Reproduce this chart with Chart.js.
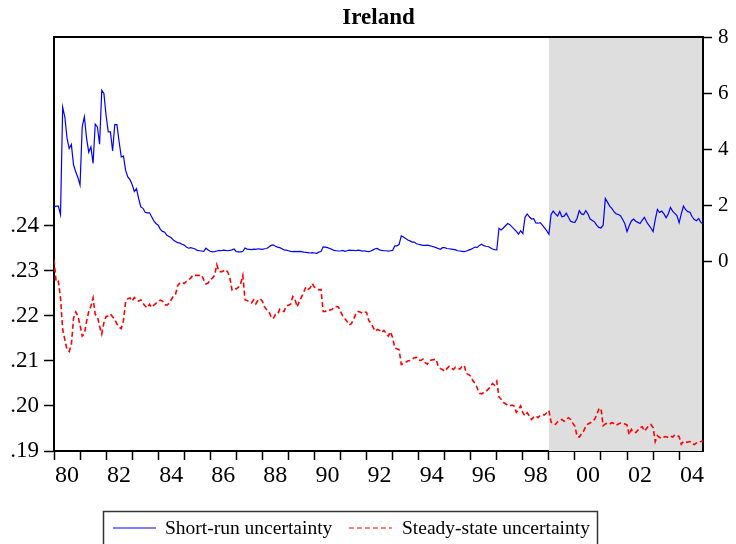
<!DOCTYPE html>
<html>
<head>
<meta charset="utf-8">
<script src="https://cdn.jsdelivr.net/npm/chart.js@4.4.1/dist/chart.umd.min.js"></script>
<style>
  html, body { margin: 0; padding: 0; background: #fff; }
  canvas { display: block; }
</style>
</head>
<body>
<canvas id="myChart" width="736" height="544" style="width:736px;height:544px"></canvas>
<script>
// monthly data, 1980:01 - 2004:12
const years = [1980, 1981, 1982, 1983, 1984, 1985, 1986, 1987, 1988, 1989, 1990, 1991, 1992,
               1993, 1994, 1995, 1996, 1997, 1998, 1999, 2000, 2001, 2002, 2003, 2004];
const leftTicks = [0.19, 0.20, 0.21, 0.22, 0.23, 0.24];
const rightTicks = [0, 2, 4, 6, 8];
const shadeFrom = 1999;

const shortRun = [
  1.95, 1.98, 1.98, 1.68, 5.50, 5.15, 4.40, 4.03, 4.17, 3.45, 3.20, 3.00,
  2.73, 4.80, 5.16, 4.40, 3.90, 4.09, 3.50, 4.90, 4.80, 4.18, 6.10, 5.99,
  5.20, 4.62, 4.62, 3.94, 4.88, 4.88, 4.27, 3.73, 3.76, 3.25, 3.02, 2.92,
  2.75, 2.50, 2.60, 2.25, 1.95, 1.90, 1.76, 1.74, 1.74, 1.60, 1.45, 1.36,
  1.30, 1.15, 1.08, 1.05, 0.94, 0.90, 0.85, 0.77, 0.72, 0.68, 0.66, 0.62,
  0.59, 0.52, 0.48, 0.50, 0.48, 0.45, 0.40, 0.39, 0.38, 0.37, 0.48, 0.42,
  0.37, 0.35, 0.36, 0.38, 0.40, 0.39, 0.41, 0.40, 0.39, 0.40, 0.42, 0.45,
  0.36, 0.35, 0.35, 0.37, 0.49, 0.45, 0.44, 0.43, 0.45, 0.44, 0.46, 0.45,
  0.44, 0.46, 0.47, 0.52, 0.58, 0.60, 0.55, 0.52, 0.50, 0.46, 0.42, 0.41,
  0.39, 0.37, 0.36, 0.37, 0.36, 0.37, 0.36, 0.34, 0.33, 0.32, 0.31, 0.32,
  0.31, 0.30, 0.34, 0.36, 0.53, 0.52, 0.50, 0.47, 0.44, 0.40, 0.39, 0.38,
  0.38, 0.40, 0.37, 0.39, 0.41, 0.40, 0.40, 0.39, 0.41, 0.40, 0.38, 0.39,
  0.37, 0.36, 0.38, 0.42, 0.46, 0.47, 0.42, 0.40, 0.39, 0.39, 0.38, 0.39,
  0.40, 0.56, 0.56, 0.62, 0.92, 0.88, 0.83, 0.77, 0.74, 0.70, 0.70, 0.64,
  0.62, 0.60, 0.58, 0.58, 0.59, 0.57, 0.55, 0.53, 0.50, 0.47, 0.44, 0.50,
  0.50, 0.47, 0.46, 0.45, 0.44, 0.42, 0.39, 0.38, 0.37, 0.36, 0.38, 0.41,
  0.44, 0.48, 0.52, 0.51, 0.58, 0.62, 0.57, 0.55, 0.54, 0.50, 0.45, 0.43,
  0.42, 1.19, 1.13, 1.20, 1.28, 1.36, 1.32, 1.24, 1.16, 1.08, 0.98, 1.10,
  1.00, 1.58, 1.70, 1.60, 1.52, 1.53, 1.38, 1.37, 1.39, 1.30, 1.20, 1.10,
  0.98, 1.68, 1.80, 1.70, 1.63, 1.79, 1.60, 1.62, 1.73, 1.58, 1.44, 1.41,
  1.40, 1.55, 1.82, 1.70, 1.68, 1.82, 1.70, 1.52, 1.47, 1.42, 1.30, 1.22,
  1.20, 1.30, 2.25, 2.12, 1.98, 1.90, 1.78, 1.70, 1.68, 1.64, 1.50, 1.35,
  1.07, 1.28, 1.45, 1.52, 1.44, 1.40, 1.36, 1.48, 1.58, 1.42, 1.30, 1.20,
  1.07, 1.50, 1.86, 1.75, 1.80, 1.70, 1.56, 1.70, 1.93, 1.80, 1.72, 1.64,
  1.39, 1.70, 1.98, 1.85, 1.78, 1.76, 1.60, 1.50, 1.46, 1.54, 1.40, 1.34
];

const steadyState = [
  .2325, .2275, .2277, .2240, .2170, .2147, .2125, .2121, .2136, .2195, .2209, .2200,
  .2180, .2155, .2160, .2188, .2210, .2222, .2240, .2203, .2199, .2177, .2160, .2185,
  .2199, .2200, .2204, .2198, .2192, .2182, .2175, .2172, .2190, .2232, .2238, .2240,
  .2233, .2241, .2236, .2233, .2236, .2228, .2222, .2218, .2226, .2219, .2224, .2228,
  .2232, .2235, .2233, .2225, .2224, .2228, .2236, .2244, .2248, .2268, .2273, .2275,
  .2272, .2277, .2280, .2284, .2291, .2290, .2290, .2290, .2291, .2280, .2271, .2273,
  .2281, .2284, .2290, .2314, .2299, .2298, .2300, .2303, .2298, .2285, .2258, .2262,
  .2260, .2264, .2272, .2290, .2236, .2234, .2232, .2229, .2236, .2227, .2235, .2238,
  .2233, .2220, .2214, .2210, .2198, .2194, .2203, .2203, .2215, .2212, .2210, .2222,
  .2224, .2226, .2243, .2238, .2220, .2232, .2242, .2252, .2264, .2259, .2262, .2272,
  .2264, .2261, .2258, .2259, .2210, .2210, .2214, .2213, .2214, .2220, .2221, .2220,
  .2210, .2200, .2194, .2188, .2180, .2183, .2192, .2204, .2210, .2209, .2206, .2209,
  .2208, .2190, .2184, .2175, .2166, .2170, .2168, .2163, .2168, .2162, .2155, .2165,
  .2152, .2129, .2127, .2125, .2092, .2094, .2097, .2100, .2101, .2104, .2107, .2108,
  .2102, .2101, .2104, .2096, .2093, .2101, .2102, .2103, .2104, .2088, .2083, .2081,
  .2077, .2083, .2088, .2084, .2081, .2086, .2084, .2082, .2088, .2090, .2072, .2070,
  .2066, .2056, .2050, .2040, .2028, .2027, .2030, .2032, .2037, .2042, .2050, .2046,
  .2055, .2020, .2015, .2008, .2005, .2002, .2000, .2002, .2000, .1986, .1992, .2000,
  .1985, .1978, .1985, .1978, .1970, .1975, .1978, .1974, .1979, .1981, .1980, .1985,
  .1990, .1964, .1960, .1959, .1965, .1968, .1970, .1966, .1970, .1974, .1970, .1962,
  .1955, .1932, .1931, .1938, .1944, .1955, .1960, .1962, .1966, .1970, .1980, .1993,
  .1995, .1956, .1960, .1962, .1960, .1963, .1961, .1957, .1960, .1962, .1961, .1960,
  .1958, .1936, .1948, .1942, .1941, .1946, .1952, .1954, .1944, .1950, .1957, .1959,
  .1952, .1921, .1934, .1930, .1928, .1931, .1932, .1930, .1933, .1931, .1936, .1935,
  .1932, .1915, .1921, .1919, .1920, .1921, .1916, .1914, .1918, .1920, .1921, .1922
];

const SERIF = '"Liberation Serif", "Times New Roman", serif';
Chart.defaults.font.family = SERIF;
Chart.defaults.color = '#000';

function toPoints(values) {
    return values.map((v, i) => ({ x: years[0] + i / 12, y: v }));
}

// shading, top frame line, title and boxed legend
const extras = {
    id: 'extras',
    beforeDatasetsDraw(chart) {
        const { ctx, chartArea: a, scales } = chart;
        const x0 = scales.x.getPixelForValue(shadeFrom);
        ctx.save();
        ctx.fillStyle = '#dedede';
        ctx.fillRect(x0, a.top, a.right - x0 - 1, a.bottom - a.top);
        ctx.restore();
    },
    afterDraw(chart) {
        const { ctx, chartArea: a } = chart;
        ctx.save();
        ctx.strokeStyle = '#000';
        ctx.lineWidth = 2;
        ctx.beginPath();
        ctx.moveTo(a.left - 1, a.top);
        ctx.lineTo(a.right + 1, a.top);
        ctx.stroke();

        ctx.fillStyle = '#000';
        ctx.font = 'bold 23px ' + SERIF;
        ctx.textAlign = 'center';
        ctx.textBaseline = 'middle';
        ctx.fillText('Ireland', (a.left + a.right) / 2, 18);

        // legend
        ctx.lineWidth = 1.5;
        ctx.strokeStyle = '#333';
        ctx.strokeRect(103.5, 511.5, 494, 40);
        ctx.font = '19.5px ' + SERIF;
        ctx.textAlign = 'left';
        const ds = chart.data.datasets;
        const items = [[113, 165], [349, 402]];
        items.forEach(([lx, tx], k) => {
            ctx.strokeStyle = ds[k].borderColor;
            ctx.lineWidth = 1;
            ctx.setLineDash(ds[k].borderDash || []);
            ctx.beginPath();
            ctx.moveTo(lx, 528);
            ctx.lineTo(lx + 43, 528);
            ctx.stroke();
            ctx.setLineDash([]);
            ctx.fillStyle = '#000';
            ctx.fillText(ds[k].label, tx, 529);
        });
        ctx.restore();
    }
};

new Chart(document.getElementById('myChart'), {
    type: 'line',
    data: {
        datasets: [{
            label: 'Short-run uncertainty',
            data: toPoints(shortRun),
            yAxisID: 'yR',
            borderColor: 'rgb(0, 0, 255)',
            borderWidth: 1.2,
            pointRadius: 0,
            tension: 0
        }, {
            label: 'Steady-state uncertainty',
            data: toPoints(steadyState),
            yAxisID: 'yL',
            borderColor: 'rgb(255, 0, 0)',
            borderWidth: 1.6,
            borderDash: [5, 3],
            pointRadius: 0,
            tension: 0
        }]
    },
    options: {
        responsive: false,
        animation: false,
        layout: { padding: { top: 37, bottom: 53, left: 0, right: 0 } },
        plugins: { legend: { display: false }, tooltip: { enabled: false } },
        scales: {
            x: {
                type: 'linear',
                min: years[0],
                max: years[0] + (shortRun.length - 1) / 12,
                afterBuildTicks: s => { s.ticks = years.map(v => ({ value: v })); },
                afterFit: s => { s.height = 40; },
                ticks: {
                    autoSkip: false,
                    maxRotation: 0,
                    labelOffset: 13,
                    padding: 1,
                    font: { size: 24 },
                    callback: v => (v % 2 === 0 ? String(v).slice(2) : '')
                },
                grid: { drawOnChartArea: false, tickLength: 9, color: '#000', tickWidth: 1.5 },
                border: { color: '#000', width: 2 }
            },
            yL: {
                position: 'left',
                min: 0.19,
                max: 0.28196,
                afterBuildTicks: s => { s.ticks = leftTicks.map(v => ({ value: v })); },
                afterFit: s => { s.width = 54; },
                ticks: {
                    padding: 5,
                    font: { size: 23 },
                    callback: v => v.toFixed(2).slice(1)
                },
                grid: { drawOnChartArea: false, tickLength: 10, color: '#000', tickWidth: 1.5 },
                border: { color: '#000', width: 2 }
            },
            yR: {
                position: 'right',
                min: -6.74,
                max: 8,
                afterBuildTicks: s => { s.ticks = rightTicks.map(v => ({ value: v })); },
                afterFit: s => { s.width = 33; },
                ticks: {
                    padding: 6,
                    font: { size: 21 },
                    callback: v => String(v)
                },
                grid: { drawOnChartArea: false, tickLength: 9, color: '#000', tickWidth: 1.5 },
                border: { color: '#000', width: 2 }
            }
        }
    },
    plugins: [extras]
});
</script>
</body>
</html>
